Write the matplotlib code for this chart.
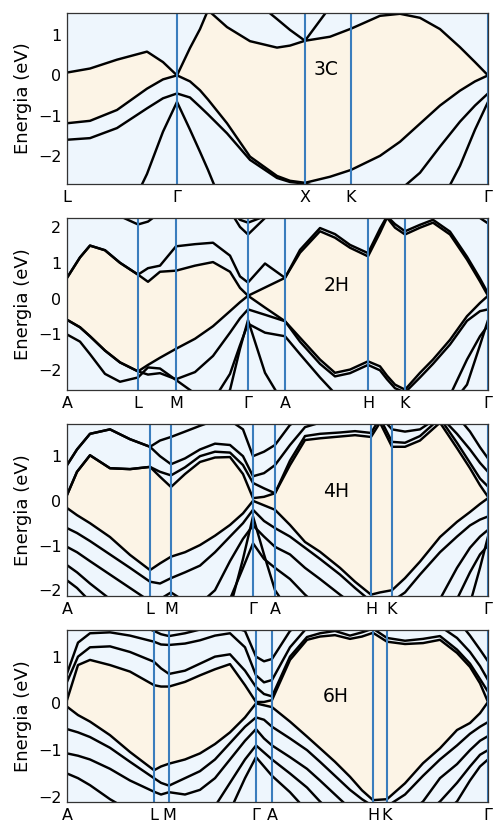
import numpy as np
import matplotlib.pyplot as plt

# ---- 3C: path L-G-X-K-G ----
k_3c = [0, 23, 50, 80, 96, 110, 123, 133, 141, 160, 183, 210, 223, 238, 263,
        284, 313, 333, 353, 373, 393, 408, 421]
ticks_3c = [0, 110, 238, 284, 421]
labels_3c = ["L", "Γ", "X", "K", "Γ"]
cb1_3c = [0.07, 0.17, 0.39, 0.59, 0.33, 0.00, 0.68, 1.15, 1.62, 1.20, 0.85, 0.69,
          0.74, 0.86, 0.96, 1.16, 1.48, 1.53, 1.43, 1.15, 0.70, 0.33, 0.00]
cb2_3c = [2.6, 2.6, 2.6, 2.6, 2.4, 2.1, 1.9, 1.75, 1.62, 1.9, 1.95, 1.40,
          1.13, 0.86, 1.70, 2.2, 2.6, 2.6, 2.6, 2.6, 2.6, 2.6, 2.6]
vb1_3c = [-1.19, -1.13, -0.86, -0.33, -0.10, 0.00, -0.15, -0.37, -0.60, -1.19, -2.02, -2.50,
          -2.62, -2.67, -2.52, -2.35, -2.00, -1.65, -1.20, -0.75, -0.38, -0.15, 0.00]
vb2_3c = [-1.60, -1.56, -1.31, -0.82, -0.57, -0.45, -0.55, -0.78, -0.97, -1.44, -2.10, -2.55,
          -2.65, -2.69, -2.85, -2.95, -2.95, -2.85, -2.42, -1.77, -1.15, -0.75, -0.45]
vb3_3c = [-4.0, -4.0, -4.0, -2.45, -1.40, -0.66, -1.35, -1.90, -2.35, -3.5, -4.0, -4.0,
          -4.0, -4.0, -4.0, -4.0, -4.0, -4.0, -4.0, -3.2, -2.25, -1.35, -0.66]

# ---- 2H: path A-L-M-G-A-H-K-G ----
k_2h = [0, 13, 23, 38, 53, 71, 81, 93, 109, 128, 146, 163, 173, 181, 198, 218,
        233, 253, 268, 283, 301, 313, 320, 328, 338, 353, 366, 383, 400, 413, 421]
ticks_2h = [0, 71, 109, 181, 218, 301, 338, 421]
labels_hex = ["A", "L", "M", "Γ", "A", "H", "K", "Γ"]
cb1_2h = [0.58, 1.15, 1.48, 1.35, 1.00, 0.67, 0.47, 0.75, 0.78, 0.92, 1.02, 0.75, 0.30, 0.08, 0.31, 0.58,
          1.28, 1.88, 1.70, 1.42, 1.18, 1.84, 2.26, 1.98, 1.79, 1.98, 2.12, 1.79, 1.09, 0.48, 0.08]
cb2_2h = [0.58, 1.15, 1.48, 1.35, 1.00, 0.67, 0.85, 0.92, 1.46, 1.52, 1.56, 1.20, 0.62, 0.45, 0.98, 0.58,
          1.36, 1.97, 1.80, 1.50, 1.27, 1.95, 2.30, 2.08, 1.88, 2.06, 2.20, 1.87, 1.17, 0.56, 0.15]
cb3_2h = [2.6, 2.6, 2.6, 2.5, 2.3, 2.07, 2.15, 2.4, 2.6, 2.6, 2.6, 2.5, 2.2, 2.12, 2.3, 2.6,
          2.6, 2.6, 2.6, 2.6, 2.6, 2.6, 2.6, 2.6, 2.6, 2.6, 2.6, 2.6, 2.5, 2.25, 2.1]
cb4_2h = [2.8, 2.8, 2.8, 2.8, 2.8, 2.8, 2.8, 2.8, 2.8, 2.8, 2.8, 2.45, 2.0, 1.79, 2.25, 2.8,
          2.8, 2.8, 2.8, 2.8, 2.8, 2.8, 2.8, 2.8, 2.8, 2.8, 2.8, 2.8, 2.7, 2.4, 2.3]
vb1_2h = [-0.59, -0.80, -1.05, -1.45, -1.78, -2.03, -1.85, -1.65, -1.40, -1.12, -0.77, -0.35, -0.10, 0.08, -0.25, -0.63,
          -1.09, -1.70, -2.07, -1.98, -1.75, -1.89, -2.15, -2.40, -2.54, -2.07, -1.70, -1.15, -0.49, -0.12, 0.08]
vb2_2h = [-0.59, -0.80, -1.05, -1.45, -1.78, -2.03, -2.12, -2.08, -2.25, -2.05, -1.60, -0.95, -0.55, -0.30, -0.45, -0.63,
          -1.20, -1.82, -2.17, -2.08, -1.85, -2.00, -2.25, -2.50, -2.62, -2.20, -1.82, -1.28, -0.62, -0.35, -0.30]
vb3_2h = [-1.00, -1.20, -1.55, -2.10, -2.32, -2.20, -1.92, -1.95, -2.27, -2.65, -2.85, -2.10, -1.30, -0.70, -0.95, -1.05,
          -1.55, -2.20, -2.65, -2.9, -2.9, -2.9, -2.9, -2.9, -2.9, -2.9, -2.9, -2.7, -1.70, -1.05, -0.75]
vb4_2h = [-3.0, -3.0, -3.0, -3.0, -3.0, -3.0, -3.0, -3.0, -3.0, -3.0, -3.0, -2.55, -1.40, -0.60, -2.07, -3.0,
          -3.0, -3.0, -3.0, -3.0, -3.0, -3.0, -3.0, -3.0, -3.0, -3.0, -3.0, -3.0, -2.4, -1.3, -0.6]

# ---- 4H ----
k_4h = [0, 10, 23, 43, 63, 83, 93, 104, 118, 133, 148, 163, 176, 186, 197, 208,
        223, 238, 253, 273, 288, 304, 313, 325, 338, 353, 373, 390, 403, 413, 421]
ticks_4h = [0, 83, 104, 186, 208, 304, 325, 421]
cb1_4h = [0.13, 0.65, 1.02, 0.73, 0.71, 0.76, 0.54, 0.31, 0.60, 0.87, 0.97, 0.98, 0.60, 0.06, 0.09, 0.17,
          0.80, 1.36, 1.40, 1.44, 1.47, 1.43, 1.75, 1.21, 1.21, 1.35, 1.75, 1.18, 0.73, 0.35, 0.09]
cb2_4h = [0.13, 0.65, 1.02, 0.73, 0.71, 0.76, 0.65, 0.57, 0.75, 1.00, 1.10, 1.08, 0.80, 0.40, 0.28, 0.17,
          0.90, 1.45, 1.50, 1.53, 1.56, 1.52, 1.85, 1.32, 1.30, 1.45, 1.85, 1.30, 0.85, 0.50, 0.32]
cb3_4h = [0.80, 1.15, 1.50, 1.60, 1.38, 1.21, 1.00, 0.82, 0.95, 1.15, 1.28, 1.25, 1.00, 0.55, 0.62, 0.80,
          1.25, 1.65, 1.75, 1.80, 1.80, 1.80, 1.90, 1.60, 1.55, 1.60, 1.90, 1.50, 1.15, 0.85, 0.65]
cb4_4h = [0.80, 1.15, 1.50, 1.60, 1.38, 1.21, 1.35, 1.43, 1.55, 1.68, 1.80, 1.80, 1.60, 1.00, 1.10, 1.25,
          1.70, 1.90, 1.90, 1.90, 1.90, 1.90, 1.90, 1.90, 1.90, 1.90, 1.90, 1.90, 1.55, 1.20, 0.95]
vb1_4h = [-0.16, -0.32, -0.50, -0.81, -1.21, -1.55, -1.40, -1.25, -1.15, -0.99, -0.78, -0.54, -0.28, 0.00, -0.10, -0.20,
          -0.54, -0.92, -1.14, -1.50, -1.81, -2.10, -2.05, -2.00, -1.73, -1.36, -0.81, -0.47, -0.25, -0.07, 0.06]
vb2_4h = [-0.61, -0.72, -0.90, -1.20, -1.50, -1.81, -1.85, -1.73, -1.60, -1.45, -1.15, -0.80, -0.50, -0.20, -0.45, -0.61,
          -0.80, -1.05, -1.30, -1.65, -1.95, -2.25, -2.25, -2.25, -2.05, -1.65, -1.15, -0.80, -0.55, -0.42, -0.35]
vb3_4h = [-1.03, -1.15, -1.35, -1.65, -1.95, -2.25, -2.20, -2.05, -2.25, -2.30, -2.00, -1.35, -0.85, -0.55, -0.80, -1.03,
          -1.20, -1.50, -1.75, -2.10, -2.35, -2.5, -2.5, -2.5, -2.5, -2.5, -2.2, -1.50, -1.05, -0.80, -0.65]
vb4_4h = [-1.44, -1.60, -1.85, -2.20, -2.5, -2.5, -2.5, -2.5, -2.5, -2.5, -2.5, -2.20, -1.50, -0.95, -1.30, -1.50,
          -1.75, -2.10, -2.4, -2.5, -2.5, -2.5, -2.5, -2.5, -2.5, -2.5, -2.5, -2.2, -1.6, -1.2, -1.0]
vb5_4h = [-1.78, -1.95, -2.25, -2.5, -2.5, -2.5, -2.5, -2.5, -2.5, -2.5, -2.5, -2.4, -1.3, -0.35, -1.2, -2.0,
          -2.5, -2.5, -2.5, -2.5, -2.5, -2.5, -2.5, -2.5, -2.5, -2.5, -2.5, -2.5, -2.3, -1.5, -0.8]

# ---- 6H ----
k_6h = [0, 11, 23, 43, 63, 87, 94, 102, 118, 133, 148, 163, 178, 189, 197, 205,
        223, 240, 253, 268, 283, 295, 306, 320, 338, 356, 373, 390, 403, 413, 421]
ticks_6h = [0, 87, 102, 189, 205, 306, 320, 421]
cb1_6h = [0.07, 0.82, 0.93, 0.82, 0.68, 0.39, 0.36, 0.36, 0.46, 0.60, 0.73, 0.84, 0.39, 0.03, 0.03, 0.07,
          0.93, 1.36, 1.43, 1.46, 1.38, 1.43, 1.51, 1.32, 1.27, 1.29, 1.36, 1.08, 0.78, 0.43, 0.03]
cb2_6h = [0.46, 1.00, 1.20, 1.22, 1.10, 0.89, 0.75, 0.63, 0.70, 0.85, 1.00, 1.05, 0.70, 0.35, 0.20, 0.15,
          1.00, 1.42, 1.50, 1.55, 1.45, 1.52, 1.60, 1.40, 1.34, 1.38, 1.44, 1.15, 0.85, 0.52, 0.25]
cb3_6h = [0.64, 1.30, 1.50, 1.52, 1.45, 1.32, 1.26, 1.25, 1.28, 1.35, 1.45, 1.50, 1.20, 0.60, 0.45, 0.50,
          1.20, 1.62, 1.65, 1.65, 1.65, 1.65, 1.65, 1.65, 1.65, 1.65, 1.65, 1.40, 1.10, 0.80, 0.50]
cb4_6h = [1.60, 1.75, 1.85, 1.85, 1.75, 1.55, 1.48, 1.44, 1.50, 1.58, 1.65, 1.65, 1.55, 1.00, 0.90, 0.95,
          1.55, 1.80, 1.80, 1.80, 1.80, 1.80, 1.80, 1.80, 1.80, 1.80, 1.80, 1.80, 1.45, 1.15, 0.90]
vb1_6h = [-0.07, -0.25, -0.39, -0.68, -1.04, -1.43, -1.35, -1.29, -1.20, -1.07, -0.87, -0.62, -0.30, 0.00, -0.04, -0.08,
          -0.39, -0.71, -0.96, -1.25, -1.57, -1.86, -2.07, -2.05, -1.71, -1.28, -0.96, -0.57, -0.42, -0.21, 0.03]
vb2_6h = [-0.55, -0.62, -0.72, -0.95, -1.25, -1.60, -1.70, -1.76, -1.60, -1.45, -1.20, -0.85, -0.50, -0.30, -0.35, -0.50,
          -0.75, -1.00, -1.25, -1.55, -1.85, -2.05, -2.20, -2.20, -1.95, -1.55, -1.20, -0.90, -0.65, -0.50, -0.40]
vb3_6h = [-1.07, -1.12, -1.20, -1.40, -1.65, -1.89, -1.95, -1.90, -1.95, -1.85, -1.60, -1.20, -0.80, -0.55, -0.75, -0.90,
          -1.15, -1.40, -1.65, -1.95, -2.25, -2.4, -2.4, -2.4, -2.4, -2.1, -1.60, -1.30, -1.00, -0.80, -0.70]
vb4_6h = [-1.50, -1.60, -1.75, -2.05, -2.30, -2.4, -2.4, -2.4, -2.4, -2.4, -2.20, -1.70, -1.20, -0.90, -1.05, -1.20,
          -1.50, -1.80, -2.10, -2.4, -2.4, -2.4, -2.4, -2.4, -2.4, -2.4, -2.10, -1.70, -1.35, -1.10, -1.00]
vb5_6h = [-2.4, -2.4, -2.4, -2.4, -2.4, -2.4, -2.4, -2.4, -2.4, -2.4, -2.4, -2.3, -1.60, -1.15, -1.35, -1.55,
          -1.90, -2.3, -2.4, -2.4, -2.4, -2.4, -2.4, -2.4, -2.4, -2.4, -2.4, -2.10, -1.65, -1.35, -1.20]

BG = "#eef6fd"
GAP = "#fcf4e6"
VLINE = "#3a7dbd"

panels = [
    ("3C", k_3c, ticks_3c, labels_3c, (-2.7, 1.55), [-2, -1, 0, 1],
     cb1_3c, vb1_3c, [cb2_3c, vb2_3c, vb3_3c], (0.615, 0.667)),
    ("2H", k_2h, ticks_2h, labels_hex, (-2.55, 2.25), [-2, -1, 0, 1, 2],
     cb1_2h, vb1_2h, [cb2_2h, cb3_2h, cb4_2h, vb2_2h, vb3_2h, vb4_2h], (0.64, 0.605)),
    ("4H", k_4h, ticks_4h, labels_hex, (-2.13, 1.72), [-2, -1, 0, 1],
     cb1_4h, vb1_4h, [cb2_4h, cb3_4h, cb4_4h, vb2_4h, vb3_4h, vb4_4h, vb5_4h], (0.639, 0.605)),
    ("6H", k_6h, ticks_6h, labels_hex, (-2.11, 1.57), [-2, -1, 0, 1],
     cb1_6h, vb1_6h, [cb2_6h, cb3_6h, cb4_6h, vb2_6h, vb3_6h, vb4_6h, vb5_6h], (0.639, 0.616)),
]

fig = plt.figure(figsize=(4.93, 8.21), dpi=100)
W, H = 493, 821
boxes = [(13, 184), (218, 390), (424, 596), (630, 802)]

for (name, k, ticks, labels, ylim, yticks, cb, vb, others, lab), (top, bot) in zip(panels, boxes):
    ax = fig.add_axes([67 / W, 1 - bot / H, 421 / W, (bot - top) / H])
    ax.set_facecolor(BG)
    # gap region between the two bands around E = 0
    ax.fill_between(k, vb, cb, color=GAP, lw=0, zorder=1)
    for band in [cb, vb] + others:
        ax.plot(k, band, color="black", lw=1.75, solid_joinstyle="round",
                solid_capstyle="round", zorder=2)
    for t in ticks:
        ax.axvline(t, color=VLINE, lw=1.5, zorder=3)
    ax.set_xlim(k[0], k[-1])
    ax.set_ylim(*ylim)
    ax.set_xticks(ticks)
    ax.set_xticklabels(labels)
    ax.set_yticks(yticks)
    ax.tick_params(length=0, labelsize=11.5, pad=4)
    ax.set_ylabel("Energia (eV)", fontsize=13, labelpad=4)
    for s in ax.spines.values():
        s.set_color("#333333")
        s.set_linewidth(0.9)
        s.set_zorder(4)
    ax.text(lab[0], lab[1], name, transform=ax.transAxes, fontsize=13.5,
            ha="center", va="center", zorder=5)

fig.savefig("out.png", dpi=100)
